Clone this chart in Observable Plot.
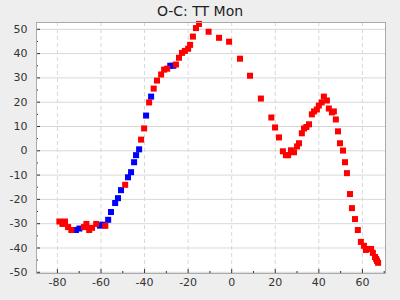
<!DOCTYPE html>
<html><head><meta charset="utf-8">
<script src="https://cdn.jsdelivr.net/npm/d3@7"></script>
<script src="https://cdn.jsdelivr.net/npm/@observablehq/plot@0.6"></script>
<style>
body{margin:0;background:#eeeeee;}
#wrap{position:relative;width:400px;height:300px;background:#eeeeee;font-family:"DejaVu Sans",sans-serif;}
#title{position:absolute;top:3px;left:0;width:400px;text-align:center;font-size:14px;font-weight:normal;color:#222;line-height:16px;}
#chart{position:absolute;top:0;left:0;}
</style></head><body>
<div id="wrap"><div id="chart"></div><div id="title">O-C: TT Mon</div></div>
<script>
const title = "O-C: TT Mon";
const redX = [-79.1,-77.7,-76.5,-75.1,-73.6,-67.8,-66.7,-65.4,-64.1,-62.2,-58.0,-48.9,-41.6,-40.2,-37.9,-35.8,-34.3,-32.4,-31.0,-29.6,-25.6,-24.2,-22.8,-21.5,-20.0,-19.1,-17.8,-16.4,-15.0,-10.6,-5.8,-1.2,3.8,8.4,13.4,18.2,19.9,21.7,23.5,24.9,25.9,27.2,28.6,30.0,30.9,32.2,33.2,34.3,35.5,36.8,37.8,39.1,40.0,41.3,42.3,43.7,44.6,46.0,46.9,47.8,48.8,49.7,51.1,52.0,52.9,54.3,55.2,56.6,57.9,59.3,60.7,61.6,62.8,64.0,64.8,65.8,66.3,66.7,67.2];
const redY = [-29.1,-30.1,-29.1,-31.4,-32.6,-31.4,-30.1,-32.6,-31.7,-30.1,-30.9,-14.0,4.6,9.2,19.9,25.6,28.9,31.4,33.4,33.8,35.5,38.3,40.3,41.1,42.0,43.6,47.0,50.5,52.2,49.0,46.5,44.9,37.9,30.9,21.5,13.7,9.6,5.5,-0.2,-1.8,-1.8,0.2,-0.6,1.8,3.1,7.2,9.2,9.8,10.9,15.0,16.2,17.0,18.6,19.9,22.3,20.7,17.4,15.8,16.2,12.9,8.0,3.1,0.1,-4.7,-9.2,-17.8,-23.6,-28.1,-32.6,-37.5,-39.1,-40.8,-40.4,-40.4,-42.0,-43.7,-44.5,-45.3,-46.1];
const blueX = [-71.5,-69.9,-60.5,-59.3,-56.7,-55.4,-53.5,-52.2,-50.8,-47.6,-46.2,-44.8,-43.9,-42.5,-39.3,-37.0,-28.2,-26.8];
const blueY = [-32.6,-32.0,-30.8,-30.4,-28.4,-25.2,-21.5,-19.5,-16.2,-10.9,-8.8,-4.7,-1.8,0.6,14.5,22.3,35.0,35.0];
const xTicks = [-80,-60,-40,-20,0,20,40,60];
const xMinor = [-70,-50,-30,-10,10,30,50,70];
const yTicks = [-50,-40,-30,-20,-10,0,10,20,30,40,50];
const yMinor = [-45,-35,-25,-15,-5,5,15,25,35,45];

const red = redX.map((x,i)=>({x, y: redY[i]}));
const blue = blueX.map((x,i)=>({x, y: blueY[i]}));

const W = 400, H = 300, mT = 22, mB = 27, mL = 36, mR = 15;
const plotW = W - mL - mR, plotH = H - mT - mB;

const chart = Plot.plot({
  width: W, height: H,
  marginTop: mT, marginBottom: mB, marginLeft: mL, marginRight: mR,
  style: {fontFamily: "DejaVu Sans, sans-serif", fontSize: "11px", background: "transparent", color: "#333"},
  x: {domain: [-89.6, 70.6], label: null},
  y: {domain: [-50.5, 52.8], label: null},
  marks: [
    Plot.frame({fill: "white", stroke: "none"}),
    Plot.gridY(yTicks, {stroke: "#d8d8d8", strokeOpacity: 1}),
    Plot.gridX(xTicks, {stroke: "#d8d8d8", strokeOpacity: 1, strokeDasharray: "4,3"}),
    Plot.tickX(xTicks, {x: d => d, insetTop: plotH - 4, stroke: "#333"}),
    Plot.tickX(xMinor, {x: d => d, insetTop: plotH - 2, stroke: "#333"}),
    Plot.tickY(yTicks, {y: d => d, insetRight: plotW - 4, stroke: "#333"}),
    Plot.tickY(yMinor, {y: d => d, insetRight: plotW - 2, stroke: "#333"}),
    Plot.axisX(xTicks, {tickSize: 0, tickPadding: 5, tickFormat: d => String(d), fill: "#333", label: null}),
    Plot.axisY(yTicks, {tickSize: 0, tickPadding: 9, tickFormat: d => String(d), fill: "#333", label: null}),
    Plot.dot(blue, {x: "x", y: "y", symbol: "square", r: 3.4, fill: "#0000ff"}),
    Plot.dot(red, {x: "x", y: "y", symbol: "square", r: 3.4, fill: "#ff0000"}),
    Plot.frame({stroke: "#aaaaaa"})
  ]
});
document.getElementById("chart").appendChild(chart);
</script>
</body></html>
